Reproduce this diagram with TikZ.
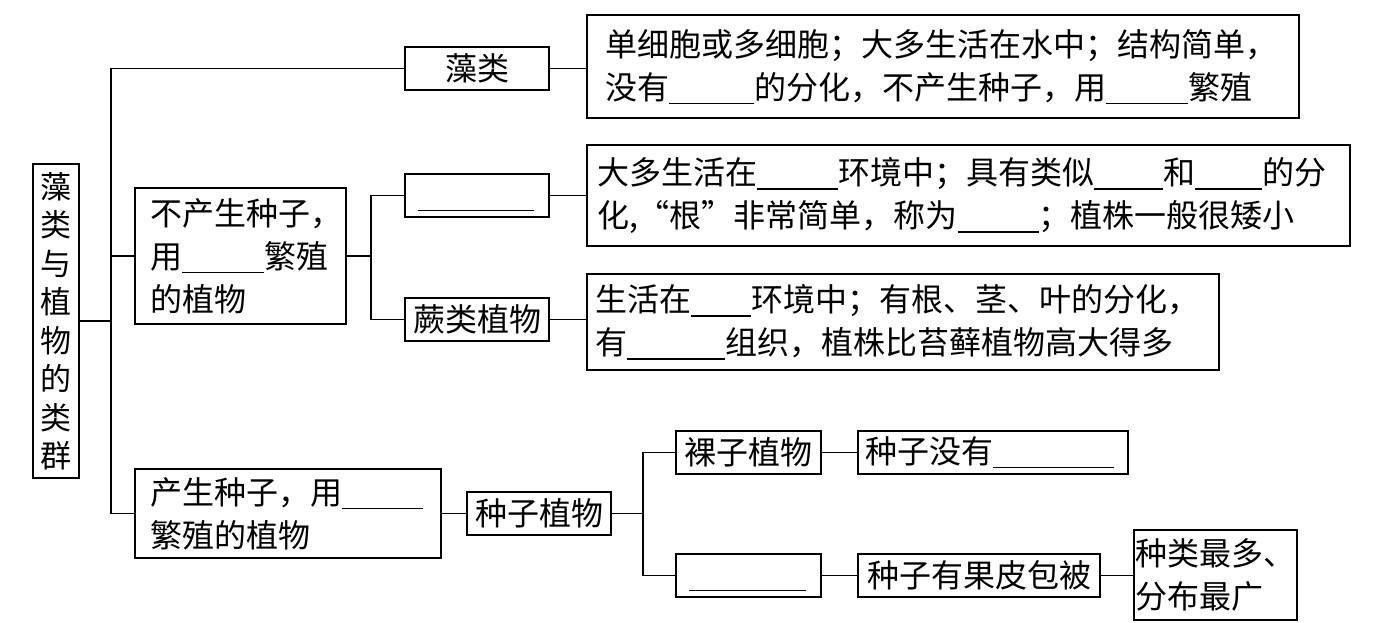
\documentclass[tikz,border=0pt]{standalone}
\usepackage{fontspec}
\newfontfamily\cjk{Noto Sans CJK SC}
\newcommand\blank[1]{\rule[-5pt]{#1pt}{1.2pt}}
\begin{document}
\begin{tikzpicture}[x=1pt,y=-1pt,
  bx/.style={draw, line width=1.6pt, inner sep=0pt, font=\cjk\fontsize{32}{43}\selectfont},
  ln/.style={line width=1.6pt},
  ul/.style={line width=1.2pt}]
\useasboundingbox (0,0) rectangle (1392,622);
% root
\node[bx, minimum width=46pt, minimum height=314pt, align=center,
      font=\cjk\fontsize{31}{38.5}\selectfont] (root) at (56,321)
  {藻\\类\\与\\植\\物\\的\\类\\群};
% level 1
\node[bx, minimum width=144pt, minimum height=43pt] (zl) at (477,68.5) {藻类};
\node[bx, minimum width=712pt, minimum height=103pt, inner xsep=18pt, text width=676pt, align=left] (d1) at (943,66.5)
  {单细胞或多细胞；大多生活在水中；结构简单，\\没有\blank{85}的分化，不产生种子，用\blank{82}繁殖};
\node[bx, minimum width=211pt, minimum height=136pt, inner xsep=15pt, text width=181pt, align=left] (nz) at (240.5,256)
  {不产生种子，\\用\blank{82}繁殖\\的植物};
\node[bx, minimum width=144pt, minimum height=43pt] (tx) at (477,195.5) {};
\node[bx, minimum width=763pt, minimum height=101pt, inner xsep=10pt, text width=743pt, align=left] (d2) at (968.5,195.5)
  {大多生活在\blank{81}环境中；具有类似\blank{69}和\blank{67}的分\\化,“根”非常简单，称为\blank{81}；植株一般很矮小};
\node[bx, minimum width=144pt, minimum height=43pt] (jl) at (477,319.5) {蕨类植物};
\node[bx, minimum width=632pt, minimum height=96pt, inner xsep=8pt, text width=616pt, align=left] (d3) at (903,322)
  {生活在\blank{60}环境中；有根、茎、叶的分化，\\有\blank{98}组织，植株比苔藓植物高大得多};
\node[bx, minimum width=306pt, minimum height=89pt, inner xsep=15pt, text width=276pt, align=left] (cz) at (288,513.5)
  {产生种子，用\blank{81}\\繁殖的植物};
\node[bx, minimum width=144pt, minimum height=43pt] (zw) at (539,513.5) {种子植物};
\node[bx, minimum width=145pt, minimum height=43pt] (lz) at (748.5,452.5) {裸子植物};
\node[bx, minimum width=270pt, minimum height=43pt, inner xsep=7pt, text width=256pt, align=left] (mz) at (993,452.5)
  {种子没有\blank{121}};
\node[bx, minimum width=145pt, minimum height=43pt] (bz) at (748.5,575.5) {};
\node[bx, minimum width=242pt, minimum height=43pt] (gp) at (979,575.5) {种子有果皮包被};
\node[bx, minimum width=163pt, minimum height=90pt, align=left] (zl2) at (1215.5,575) {种类最多、\\分布最广};
% underlines in blank boxes
\draw[ul] ([xshift=14pt,yshift=7pt]tx.south west) -- ([xshift=-16pt,yshift=7pt]tx.south east);
\draw[ul] ([xshift=14pt,yshift=7pt]bz.south west) -- ([xshift=-16pt,yshift=7pt]bz.south east);
% connectors
\coordinate (tk) at (111,0);
\coordinate (s1) at (371,0);
\coordinate (s2) at (643,0);
\draw[ln] (zl.west) -- (zl.west -| tk) -- (cz.west -| tk) -- (cz.west);
\draw[ln] (nz.west) -- (nz.west -| tk);
\draw[ln] (root.east) -- (root.east -| tk);
\draw[ln] (zl.east) -- (zl.east -| d1.west);
\draw[ln] (tx.west) -- (tx.west -| s1) -- (jl.west -| s1) -- (jl.west);
\draw[ln] (nz.east) -- (nz.east -| s1);
\draw[ln] (tx.east) -- (tx.east -| d2.west);
\draw[ln] (jl.east) -- (jl.east -| d3.west);
\draw[ln] (cz.east) -- (cz.east -| zw.west);
\draw[ln] (lz.west) -- (lz.west -| s2) -- (bz.west -| s2) -- (bz.west);
\draw[ln] (zw.east) -- (zw.east -| s2);
\draw[ln] (lz.east) -- (lz.east -| mz.west);
\draw[ln] (bz.east) -- (bz.east -| gp.west);
\draw[ln] (gp.east) -- (gp.east -| zl2.west);
\end{tikzpicture}
\end{document}
